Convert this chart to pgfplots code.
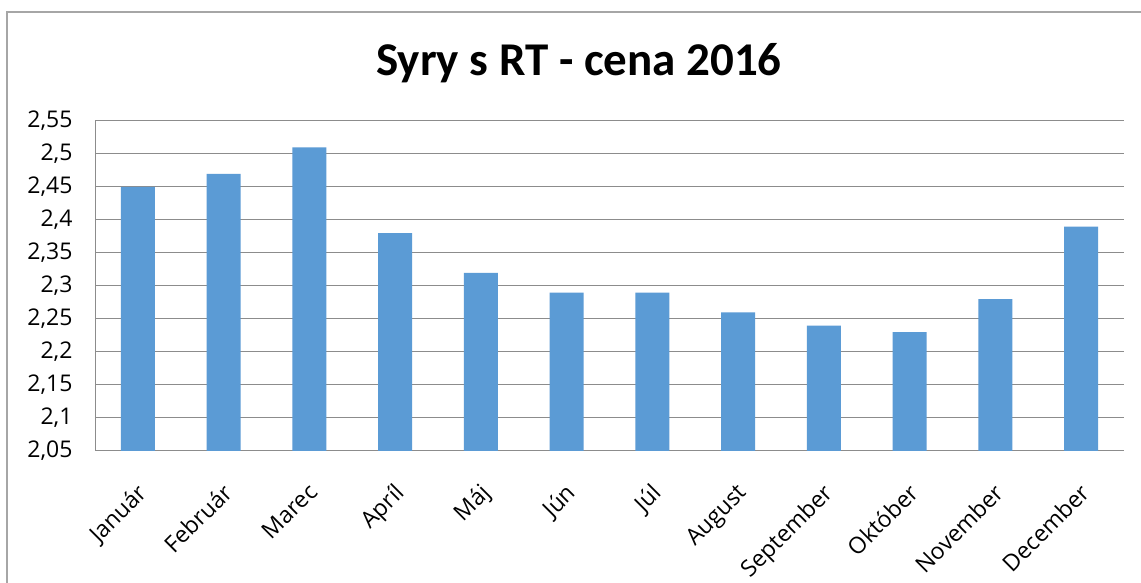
\documentclass[border=0pt]{standalone}
\usepackage{pgfplots}
\pgfplotsset{compat=1.18}
\usepackage{fontspec}
\setmainfont{Open Sans}
\newfontfamily\titlefont{Carlito}
\definecolor{barblue}{HTML}{5B9BD5}
\definecolor{gridgray}{HTML}{8C8C8C}
\definecolor{framegray}{HTML}{A6A6A6}
\begin{document}
\begin{tikzpicture}[x=1bp,y=1bp]
\useasboundingbox (0,0) rectangle (1141,583);
\fill[white] (0,0) rectangle (1141,583);
\draw[color=framegray, line width=1.5bp] (7,-10) -- (7,571) -- (1150,571);
\node[anchor=base, font=\titlefont\bfseries\fontsize{47bp}{56bp}\selectfont] at (579,507) {Syry s RT - cena 2016};
\begin{axis}[
  at={(95bp,132bp)}, anchor=south west,
  scale only axis, width=1029bp, height=330bp,
  xmin=-0.5, xmax=11.5, ymin=2.05, ymax=2.55,
  ybar, bar width=34bp,
  axis x line*=bottom, axis y line*=left,
  axis line style={gridgray, line width=1bp},
  ymajorgrids, grid style={gridgray, line width=1bp},
  major tick length=0pt,
  xtick={0,...,11},
  xticklabels={Január,Február,Marec,Apríl,Máj,Jún,Júl,August,September,Október,November,December},
  ytick={2.05,2.1,2.15,2.2,2.25,2.3,2.35,2.4,2.45,2.5,2.55},
  yticklabels={{2,05},{2,1},{2,15},{2,2},{2,25},{2,3},{2,35},{2,4},{2,45},{2,5},{2,55}},
  ticklabel style={font=\fontsize{23bp}{27bp}\selectfont},
  yticklabel style={anchor=east, xshift=-19bp},
  xticklabel style={rotate=45, anchor=north east, yshift=-17bp, xshift=-20bp},
]
\addplot[fill=barblue, draw=none] coordinates {
(0,2.45) (1,2.47) (2,2.51) (3,2.38) (4,2.32) (5,2.29) (6,2.29) (7,2.26) (8,2.24) (9,2.23) (10,2.28) (11,2.39)
};
\end{axis}
\end{tikzpicture}
\end{document}
